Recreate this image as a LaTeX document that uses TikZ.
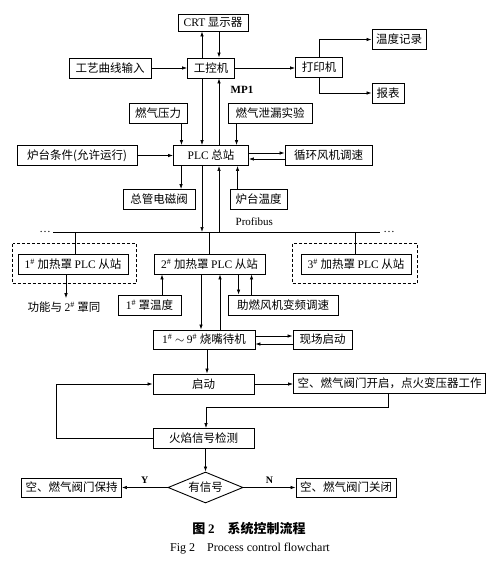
\documentclass[tikz,border=0pt]{standalone}
\usepackage{fontspec}
\setmainfont{Noto Sans CJK SC}
\newfontfamily\en{Liberation Serif}
\usetikzlibrary{arrows.meta,shapes.geometric}
\tikzset{
  boite/.style={draw,line width=0.9pt,minimum height=20pt,inner xsep=4pt,inner ysep=2pt},
  losange/.style={draw,diamond,aspect=2.4,minimum width=75pt,minimum height=31pt,inner sep=0pt,line width=0.9pt},
  cadre/.style={line width=0.9pt,dash pattern=on 3pt off 2pt},
  fleche/.style={-{Latex[length=5pt,width=3.5pt]},line width=0.7pt},
  trait/.style={line width=0.7pt},
}
\begin{document}
\begin{tikzpicture}[x=1pt,y=-1pt,font=\fontsize{11.5}{13}\selectfont]
        \fill[white] (0,0) rectangle (492,567);
        \useasboundingbox (0,0) rectangle (492,567);
        % partie haute
        \node[boite,minimum height=17pt,minimum width=70pt] (crt) at (213,22.5) {{\en CRT} 显示器};
        \node[boite,minimum width=82pt] (gy) at (110,68) {工艺曲线输入};
        \node[boite,minimum width=47pt] (gk) at (211,68) {工控机};
        \node[boite,minimum width=47pt] (dy) at (319,67) {打印机};
        \node[boite,minimum width=54pt] (wd) at (399,39.5) {温度记录};
        \node[boite,minimum width=32pt] (bb) at (388,93) {报表};
        \node[boite,minimum width=58pt] (rq) at (158,113) {燃气压力};
        \node[boite,minimum width=84pt] (xl) at (270,113) {燃气泄漏实验};
        \node[boite,minimum width=75pt] (plc) at (211,155.5) {{\en PLC} 总站};
        \node[boite,minimum width=120pt] (lt) at (77,155.5) {炉台条件(允许运行)};
        \node[boite,minimum width=87pt] (xh) at (328.5,155.5) {循环风机调速};
        \node[boite,minimum width=72pt] (zg) at (159,199.5) {总管电磁阀};
        \node[boite,minimum width=57pt] (ltw) at (258.5,199.5) {炉台温度};
        % bus
        \coordinate (busL) at (53,232);
        \coordinate (busR) at (380,232);
        \node[inner sep=0pt] (ptsL) at (45,232) {\en …};
        \node[inner sep=0pt] (ptsR) at (389,232) {\en …};
        \node[boite,minimum width=110pt] (s1) at (73,264) {{\en 1\textsuperscript{\#}} 加热罩 {\en PLC} 从站};
        \node[boite,minimum width=111pt] (s2) at (209.5,264) {{\en 2\textsuperscript{\#}} 加热罩 {\en PLC} 从站};
        \node[boite,minimum width=110pt] (s3) at (356,264) {{\en 3\textsuperscript{\#}} 加热罩 {\en PLC} 从站};
        \node (gn) at (64,307) {功能与 {\en 2\textsuperscript{\#}} 罩同};
        \node[boite,minimum width=63pt] (wd1) at (149.5,305) {{\en 1\textsuperscript{\#}} 罩温度};
        \node[boite,minimum width=110pt] (zr) at (283,305) {助燃风机变频调速};
        % partie basse
        \node[boite,minimum width=102pt,minimum height=19pt] (sz) at (204,339.5) {{\en 1\textsuperscript{\#}} $\sim$ {\en 9\textsuperscript{\#}} 烧嘴待机};
        \node[boite,minimum width=59pt,minimum height=19pt] (xc) at (322.5,339.5) {现场启动};
        \node[boite,minimum width=101pt] (qd) at (203.5,384) {启动};
        \node[boite,minimum width=191pt] (kq) at (389.5,383.5) {空、燃气阀门开启，点火变压器工作};
        \node[boite,minimum width=101pt] (hy) at (203.5,438.5) {火焰信号检测};
        \node[losange] (yx) at (205.5,487.5) {有信号};
        \node[boite,minimum width=99pt,minimum height=19pt] (bc) at (71.5,487.5) {空、燃气阀门保持};
        \node[boite,minimum width=100pt,minimum height=19pt] (gb) at (346,487.5) {空、燃气阀门关闭};
        \node[font=\fontsize{13}{15}\selectfont\bfseries] (titre) at (249,529) {图 {\en 2}\quad 系统控制流程};
        \node[font=\fontsize{12}{14}\selectfont] (legende) at (250,549) {\en Fig 2\quad Process control flowchart};
        % liaisons
        \draw[fleche] ([xshift=-9pt]gk.north) -- ([xshift=-9pt]gk.north |- crt.south);
        \draw[fleche] ([xshift=8pt]gk.north |- crt.south) -- ([xshift=8pt]gk.north);
        \draw[fleche] (gy) -- (gk);
        \draw[fleche] (gk.east) -- (gk.east -| dy.west);
        \draw[fleche] (dy.north) |- (wd.west);
        \draw[fleche] (dy.south) |- (bb.west);
        \draw[fleche] ([xshift=-9pt]gk.south) -- ([xshift=-9pt]gk.south |- plc.north);
        \draw[fleche] ([xshift=8pt]gk.south |- plc.north) -- node[pos=0.83,right=8pt,font=\en\bfseries\fontsize{11}{13}\selectfont] (mp) {MP1} ([xshift=8pt]gk.south);
        \draw[fleche] ([xshift=-6pt]rq.south east) -- ([xshift=-6pt]rq.south east |- plc.north);
        \draw[fleche] ([xshift=9pt]xl.south west) -- ([xshift=9pt]xl.south west |- plc.north);
        \draw[fleche] (lt) -- (plc);
        \draw[fleche] ([yshift=2.5pt]plc.east) -- ([yshift=2.5pt]plc.east -| xh.west);
        \draw[fleche] ([yshift=-3.5pt]xh.west) -- ([yshift=-3.5pt]xh.west -| plc.east);
        \draw[fleche] ([xshift=8pt]plc.south west) -- ([xshift=8pt]plc.south west |- zg.north);
        \draw[fleche] ([xshift=8pt]ltw.north west) -- ([xshift=8pt]ltw.north west |- plc.south);
        \draw[fleche] ([xshift=-9pt]plc.south) -- ([xshift=-9pt]plc.south |- busL);
        \draw[fleche] ([xshift=8pt]plc.south |- busL) -- node[pos=0.15,right=13pt,font=\en\fontsize{11}{13}\selectfont] (pb) {Profibus} ([xshift=8pt]plc.south);
        \draw[trait] (busL) -- (busR);
        \draw[trait] ([xshift=2pt]s1.north |- busL) -- ([xshift=2pt]s1.north);
        \draw[trait] (s2.north |- busL) -- (s2.north);
        \draw[trait] ([xshift=-1pt]s3.north |- busL) -- ([xshift=-1pt]s3.north);
        \draw[cadre] ([xshift=-5pt,yshift=10pt]s1.north west) rectangle ([xshift=8pt,yshift=-9pt]s1.south east);
        \draw[cadre] ([xshift=-8pt,yshift=10pt]s3.north west) rectangle ([xshift=6pt,yshift=-9pt]s3.south east);
        \draw[fleche] ([xshift=-7pt]s1.south) -- ([xshift=-7pt]s1.south |- gn.north);
        \draw[fleche] ([xshift=12.5pt]wd1.north) -- ([xshift=12.5pt]wd1.north |- s2.south);
        \draw[fleche] ([xshift=11pt]zr.north west |- s2.south) -- ([xshift=11pt]zr.north west);
        \draw[fleche] ([xshift=24pt]zr.north west) -- ([xshift=24pt]zr.north west |- s2.south);
        \draw[fleche] ([xshift=-8.5pt]s2.south) -- ([xshift=-8.5pt]s2.south |- sz.north);
        \draw[fleche] ([xshift=10.5pt]s2.south |- sz.north) -- ([xshift=10.5pt]s2.south);
        \draw[fleche] ([yshift=3.5pt]sz.east) -- ([yshift=3.5pt]sz.east -| xc.west);
        \draw[fleche] ([yshift=-4.5pt]xc.west) -- ([yshift=-4.5pt]xc.west -| sz.east);
        \draw[fleche] ([xshift=3pt]sz.south) -- ([xshift=3pt]sz.south |- qd.north);
        \draw[fleche] (qd.east) -- (qd.east -| kq.west);
        \draw[fleche] ([xshift=-1.5pt]kq.south) -- ++(0,13) -| ([xshift=2.5pt]hy.north);
        \draw[fleche] (hy.west) -- ++(-96,0) |- (qd.west);
        \draw[fleche] (hy.south -| yx.north) -- (yx.north);
        \draw[fleche] (yx.west) -- node[above,font=\en\bfseries] (oui) {Y} (bc.east);
        \draw[fleche] (yx.east) -- node[above,font=\en\bfseries] (non) {N} (gb.west);
    \end{tikzpicture}
\end{document}
